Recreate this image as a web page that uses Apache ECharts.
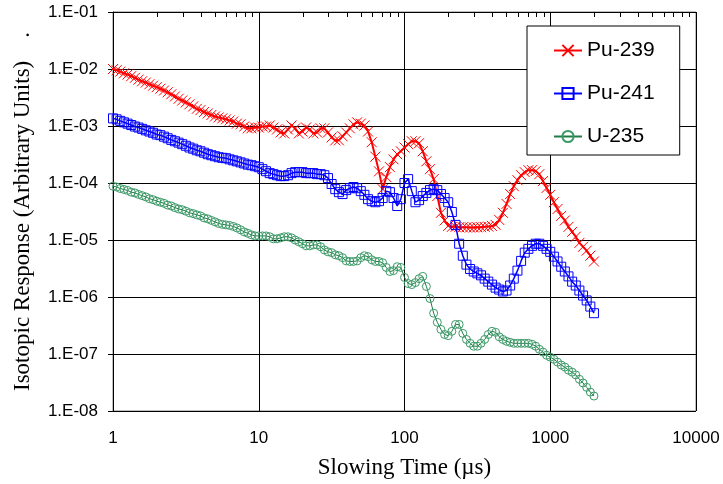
<!DOCTYPE html>
<html><head><meta charset="utf-8">
<script src="https://cdn.jsdelivr.net/npm/echarts@6/dist/echarts.min.js"></script>
<style>html,body{margin:0;padding:0;background:#fff}#c{width:723px;height:484px}</style>
</head><body><div id="c"></div>
<script>
// Slowing time sample positions (µs)
const slowingTime = [
  1, 1.059, 1.122, 1.189, 1.259, 1.334, 1.413, 1.496, 1.585, 1.679,
  1.778, 1.884, 1.995, 2.113, 2.239, 2.371, 2.512, 2.661, 2.818, 2.985,
  3.162, 3.350, 3.548, 3.758, 3.981, 4.217, 4.467, 4.732, 5.012, 5.309,
  5.623, 5.957, 6.310, 6.683, 7.079, 7.499, 7.943, 8.414, 8.913, 9.441,
  10, 10.59, 11.22, 11.89, 12.59, 13.34, 14.13, 14.96, 15.85, 16.79,
  17.78, 18.84, 19.95, 21.13, 22.39, 23.71, 25.12, 26.61, 28.18, 29.85,
  31.62, 33.50, 35.48, 37.58, 39.81, 42.17, 44.67, 47.32, 50.12, 53.09,
  56.23, 59.57, 63.10, 66.83, 70.79, 74.99, 79.43, 84.14, 89.13, 94.41,
  100, 105.9, 112.2, 118.9, 125.9, 133.4, 141.3, 149.6, 158.5, 167.9,
  177.8, 188.4, 199.5, 211.3, 223.9, 237.1, 251.2, 266.1, 281.8, 298.5,
  316.2, 335.0, 354.8, 375.8, 398.1, 421.7, 446.7, 473.2, 501.2, 530.9,
  562.3, 595.7, 631.0, 668.3, 707.9, 749.9, 794.3, 841.4, 891.3, 944.1,
  1000, 1059, 1122, 1189, 1259, 1334, 1413, 1496, 1585, 1679,
  1778, 1884, 1995
];
const pu239 = [
  1.0e-2, 9.5e-3, 9.0e-3, 8.4e-3, 8.0e-3, 7.5e-3, 7.0e-3, 6.5e-3, 6.1e-3, 5.8e-3,
  5.4e-3, 5.1e-3, 4.8e-3, 4.5e-3, 4.2e-3, 3.9e-3, 3.6e-3, 3.3e-3, 3.0e-3, 2.8e-3,
  2.6e-3, 2.4e-3, 2.2e-3, 2.0e-3, 1.9e-3, 1.76e-3, 1.66e-3, 1.56e-3, 1.47e-3, 1.41e-3,
  1.36e-3, 1.31e-3, 1.25e-3, 1.20e-3, 1.10e-3, 1.07e-3, 9.8e-4, 9.1e-4, 9.1e-4, 9.4e-4,
  9.4e-4, 9.8e-4, 9.8e-4, 1.02e-3, 9.4e-4, 8.7e-4, 7.7e-4, 7.4e-4, 8.7e-4, 1.02e-3,
  9.1e-4, 7.4e-4, 8.0e-4, 9.4e-4, 8.7e-4, 7.4e-4, 7.7e-4, 9.1e-4, 9.1e-4, 7.7e-4,
  6.3e-4, 5.6e-4, 5.6e-4, 6.6e-4, 7.7e-4, 9.1e-4, 1.07e-3, 1.16e-3, 1.10e-3, 1.02e-3,
  8.0e-4, 5.2e-4, 2.9e-4, 1.6e-4, 7.8e-5, 1.27e-4, 1.9e-4, 2.6e-4, 3.2e-4, 3.6e-4,
  4.2e-4, 4.8e-4, 5.4e-4, 5.4e-4, 5.0e-4, 3.6e-4, 2.4e-4, 1.75e-4, 1.17e-4, 5.9e-5,
  3.0e-5, 2.2e-5, 1.77e-5, 1.7e-5, 1.7e-5, 1.68e-5, 1.67e-5, 1.67e-5, 1.66e-5, 1.66e-5,
  1.67e-5, 1.68e-5, 1.7e-5, 1.72e-5, 1.76e-5, 1.84e-5, 2.25e-5, 3.0e-5, 4.3e-5, 6.4e-5,
  8.8e-5, 1.12e-4, 1.37e-4, 1.55e-4, 1.68e-4, 1.68e-4, 1.62e-4, 1.43e-4, 1.08e-4, 8.2e-5,
  6.2e-5, 4.6e-5, 3.5e-5, 2.65e-5, 2.2e-5, 1.7e-5, 1.39e-5, 1.14e-5, 8.9e-6, 7.6e-6,
  6.5e-6, 5.3e-6, 4.2e-6
];
const pu241 = [
  1.36e-3, 1.31e-3, 1.23e-3, 1.16e-3, 1.10e-3, 1.04e-3, 9.8e-4, 9.4e-4, 8.9e-4, 8.4e-4,
  8.0e-4, 7.6e-4, 7.1e-4, 6.9e-4, 6.5e-4, 6.1e-4, 5.7e-4, 5.4e-4, 5.1e-4, 4.8e-4,
  4.5e-4, 4.2e-4, 4.0e-4, 3.75e-4, 3.6e-4, 3.4e-4, 3.2e-4, 3.07e-4, 2.95e-4, 2.83e-4,
  2.77e-4, 2.72e-4, 2.6e-4, 2.5e-4, 2.4e-4, 2.3e-4, 2.2e-4, 2.1e-4, 2.05e-4, 1.97e-4,
  1.89e-4, 1.75e-4, 1.61e-4, 1.49e-4, 1.43e-4, 1.37e-4, 1.32e-4, 1.32e-4, 1.37e-4, 1.49e-4,
  1.55e-4, 1.55e-4, 1.55e-4, 1.49e-4, 1.49e-4, 1.49e-4, 1.43e-4, 1.43e-4, 1.37e-4, 1.22e-4,
  9.6e-5, 7.8e-5, 6.9e-5, 6.4e-5, 7.5e-5, 8.1e-5, 8.5e-5, 8.1e-5, 7.2e-5, 6.2e-5,
  5.2e-5, 4.8e-5, 4.6e-5, 4.8e-5, 5.45e-5, 7.2e-5, 6.9e-5, 5.45e-5, 3.95e-5, 5.2e-5,
  1.0e-4, 1.17e-4, 7.2e-5, 4.6e-5, 5.0e-5, 5.9e-5, 6.7e-5, 7.5e-5, 7.8e-5, 7.5e-5,
  6.4e-5, 5.45e-5, 4.6e-5, 3.1e-5, 1.84e-5, 8.6e-6, 5.3e-6, 3.7e-6, 3.1e-6, 2.8e-6,
  2.6e-6, 2.4e-6, 2.1e-6, 1.86e-6, 1.65e-6, 1.46e-6, 1.35e-6, 1.25e-6, 1.3e-6, 1.59e-6,
  2.1e-6, 2.9e-6, 4.3e-6, 6.0e-6, 7.0e-6, 7.9e-6, 8.6e-6, 8.6e-6, 7.9e-6, 7.0e-6,
  6.2e-6, 5.1e-6, 4.2e-6, 3.4e-6, 2.8e-6, 2.3e-6, 1.86e-6, 1.59e-6, 1.3e-6, 1.06e-6,
  8.7e-7, 6.8e-7, 5.2e-7
];
const u235 = [
  8.8e-5, 8.5e-5, 8.0e-5, 7.7e-5, 7.4e-5, 6.9e-5, 6.7e-5, 6.3e-5, 6.0e-5, 5.7e-5,
  5.3e-5, 5.1e-5, 4.8e-5, 4.6e-5, 4.4e-5, 4.1e-5, 3.95e-5, 3.7e-5, 3.5e-5, 3.4e-5,
  3.2e-5, 3.0e-5, 2.9e-5, 2.76e-5, 2.65e-5, 2.44e-5, 2.35e-5, 2.21e-5, 2.08e-5, 1.95e-5,
  1.88e-5, 1.84e-5, 1.80e-5, 1.73e-5, 1.63e-5, 1.51e-5, 1.39e-5, 1.31e-5, 1.23e-5, 1.18e-5,
  1.18e-5, 1.18e-5, 1.18e-5, 1.14e-5, 1.05e-5, 1.05e-5, 1.09e-5, 1.14e-5, 1.14e-5, 1.09e-5,
  1.0e-5, 9.3e-6, 8.6e-6, 7.9e-6, 7.9e-6, 8.2e-6, 8.2e-6, 7.6e-6, 6.7e-6, 6.2e-6,
  6.0e-6, 5.5e-6, 5.3e-6, 4.9e-6, 4.3e-6, 4.2e-6, 4.2e-6, 4.3e-6, 4.9e-6, 5.3e-6,
  5.1e-6, 4.5e-6, 4.2e-6, 4.2e-6, 4.0e-6, 3.3e-6, 2.8e-6, 2.9e-6, 3.4e-6, 3.3e-6,
  2.2e-6, 1.72e-6, 1.65e-6, 1.79e-6, 2.1e-6, 2.3e-6, 1.53e-6, 9.4e-7, 5.2e-7, 3.6e-7,
  2.7e-7, 2.2e-7, 2.1e-7, 2.5e-7, 3.3e-7, 3.3e-7, 2.3e-7, 1.8e-7, 1.54e-7, 1.37e-7,
  1.37e-7, 1.54e-7, 1.8e-7, 2.2e-7, 2.5e-7, 2.4e-7, 2.0e-7, 1.8e-7, 1.67e-7, 1.6e-7,
  1.54e-7, 1.54e-7, 1.54e-7, 1.54e-7, 1.54e-7, 1.48e-7, 1.37e-7, 1.21e-7, 1.08e-7, 9.5e-8,
  8.8e-8, 8.1e-8, 7.2e-8, 6.4e-8, 5.9e-8, 5.2e-8, 4.8e-8, 4.3e-8, 3.6e-8, 3.1e-8,
  2.6e-8, 2.15e-8, 1.83e-8
];
const seriesNames = ['Pu-239', 'Pu-241', 'U-235'];
const xRange = [1, 10000];
const yRange = [1e-8, 0.1];
const topMinorTicks = [2,3,4,5,6,7,8,9,20,30,40,50,60,70,80,90,200,300,400,500,600,700,800,900,2000,3000,4000,5000,6000,7000,8000,9000];

const sansFont = '"Liberation Sans", Arial, sans-serif';
const serifFont = '"Liberation Serif", "Times New Roman", serif';
const pair = arr => slowingTime.map((t, i) => [t, arr[i]]);
function yFmt(v) {
  const e = Math.round(Math.log10(v));
  const a = Math.abs(e);
  return '1.E' + (e < 0 ? '-' : '+') + (a < 10 ? '0' : '') + a;
}

const chart = echarts.init(document.getElementById('c'), null, { renderer: 'canvas' });
chart.setOption({
  animation: false,
  backgroundColor: '#fff',
  grid: { left: 113, top: 12, right: 27, bottom: 71, show: true, borderColor: '#808080', borderWidth: 1 },
  xAxis: [{
    type: 'log', logBase: 10, min: xRange[0], max: xRange[1], splitNumber: 4, position: 'bottom',
    axisLine: { show: false }, axisTick: { show: false },
    axisLabel: { fontSize: 17, fontFamily: sansFont, color: '#000', margin: 19, formatter: v => String(Math.round(v)) },
    splitLine: { show: true, lineStyle: { color: '#000', width: 1 } },
    name: 'Slowing Time (µs)', nameLocation: 'middle', nameGap: 45,
    nameTextStyle: { fontSize: 23, fontFamily: serifFont, color: '#000' }
  }, {
    type: 'log', logBase: 10, min: xRange[0], max: xRange[1], splitNumber: 4, position: 'top',
    axisLine: { show: true, lineStyle: { color: '#000', width: 1 } },
    axisTick: { show: false }, axisLabel: { show: false }, splitLine: { show: false }
  }],
  yAxis: {
    type: 'log', logBase: 10, min: yRange[0], max: yRange[1], splitNumber: 7,
    axisLine: { show: true, lineStyle: { color: '#000', width: 1 } },
    axisTick: { show: true, inside: false, length: 5, lineStyle: { color: '#000' } },
    axisLabel: { fontSize: 17, fontFamily: sansFont, color: '#000', margin: 15, formatter: yFmt },
    splitLine: { show: true, lineStyle: { color: '#000', width: 1 } },
    name: 'Isotopic Response (Arbitrary Units)    .', nameLocation: 'middle', nameGap: 79,
    nameTextStyle: { fontSize: 23, fontFamily: serifFont, color: '#000' }
  },
  legend: {
    data: seriesNames, orient: 'vertical', left: 527, top: 26,
    padding: [14, 25, 8, 26], itemGap: 22, itemWidth: 28, itemHeight: 14,
    textStyle: { fontSize: 21, fontFamily: sansFont, color: '#000' },
    backgroundColor: '#fff', borderColor: '#000', borderWidth: 1, borderRadius: 0
  },
  series: [{
    name: seriesNames[0], type: 'line', data: pair(pu239),
    symbol: 'path://M0,0L10,10M10,0L0,10', symbolSize: 10, showSymbol: true,
    lineStyle: { color: '#ff0000', width: 2 },
    itemStyle: { color: '#ff0000', borderColor: '#ff0000', borderWidth: 1 },
    z: 2
  }, {
    name: seriesNames[1], type: 'line', data: pair(pu241),
    symbol: 'rect', symbolSize: 9, showSymbol: true,
    lineStyle: { color: '#0000ff', width: 1.5 },
    itemStyle: { color: 'rgba(0,0,255,0)', borderColor: '#0000ff', borderWidth: 1 },
    z: 3
  }, {
    name: seriesNames[2], type: 'line', data: pair(u235),
    symbol: 'circle', symbolSize: 8, showSymbol: true,
    lineStyle: { color: '#1e7b45', width: 1 },
    itemStyle: { color: 'rgba(0,0,0,0)', borderColor: '#3c9a68', borderWidth: 1 },
    z: 4
  }]
});

// Minor ticks on the top edge, positioned through the chart's own log scale
const tickGraphics = topMinorTicks.map(v => {
  const p = chart.convertToPixel({ xAxisIndex: 0, yAxisIndex: 0 }, [v, yRange[1]]);
  const x = Math.round(p[0]) + 0.5;
  const y = Math.round(p[1]);
  return { type: 'line', silent: true, z: 100, shape: { x1: x, y1: y, x2: x, y2: y + 5 }, style: { stroke: '#000', lineWidth: 1 } };
});
chart.setOption({ graphic: tickGraphics });
</script>
</body></html>
